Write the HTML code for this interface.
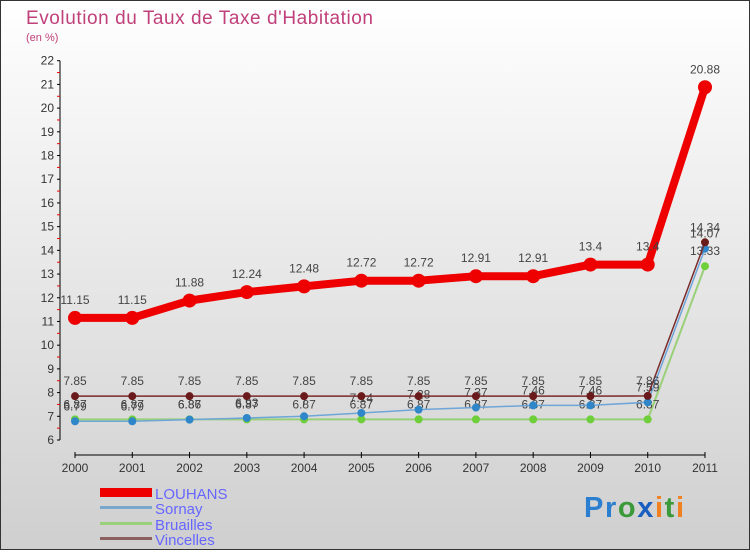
<!DOCTYPE html>
<html><head><meta charset="utf-8"><style>
body{margin:0;width:750px;height:550px;overflow:hidden;font-family:"Liberation Sans",sans-serif}
</style></head><body>
<svg id="c" width="750" height="550" xmlns="http://www.w3.org/2000/svg">
<defs><linearGradient id="bg" x1="0" y1="0" x2="0" y2="1"><stop offset="0" stop-color="#ffffff"/><stop offset="1" stop-color="#cfcfcf"/></linearGradient></defs>
<rect x="0.5" y="0.5" width="749" height="549" fill="url(#bg)" stroke="#333"/>
<text x="26" y="24" font-size="19" fill="#c0407a" textLength="347">Evolution du Taux de Taxe d'Habitation</text>
<text x="26" y="41" font-size="11" fill="#c0407a">(en %)</text>
<g id="axes"></g><g id="series"></g>
<g>
<rect x="100" y="488" width="52" height="9" fill="#e00"/>
<text x="155" y="499" font-size="15" fill="#6666ff">LOUHANS</text>
<rect x="100" y="506" width="52" height="3" fill="#7aa8cc"/>
<text x="155" y="514" font-size="15" fill="#6666ff">Sornay</text>
<rect x="100" y="522" width="52" height="3" fill="#9ad07a"/>
<text x="155" y="530" font-size="15" fill="#6666ff">Bruailles</text>
<rect x="100" y="537" width="52" height="3" fill="#8a6060"/>
<text x="155" y="545" font-size="15" fill="#6666ff">Vincelles</text>
</g>
<text x="584" y="517" font-size="29" font-weight="bold" textLength="100"><tspan fill="#2a7fd0">Pr</tspan><tspan fill="#3a9a3a">o</tspan><tspan fill="#1a5fc0">x</tspan><tspan fill="#f08020">i</tspan><tspan fill="#3a9a3a">t</tspan><tspan fill="#f08020">i</tspan></text>
</svg>
<script>
const years=[2000,2001,2002,2003,2004,2005,2006,2007,2008,2009,2010,2011];
const louhans=[11.15,11.15,11.88,12.24,12.48,12.72,12.72,12.91,12.91,13.4,13.4,20.88];
const sornay=[6.79,6.79,6.86,6.93,7,7.14,7.28,7.37,7.46,7.46,7.59,14.07];
const bruailles=[6.87,6.87,6.87,6.87,6.87,6.87,6.87,6.87,6.87,6.87,6.87,13.33];
const vincelles=[7.85,7.85,7.85,7.85,7.85,7.85,7.85,7.85,7.85,7.85,7.86,14.34];
const yTicks=[6,7,8,9,10,11,12,13,14,15,16,17,18,19,20,21,22];
const NS="http://www.w3.org/2000/svg";
const X=i=>75+i*(630/11);
const Y=v=>440-(v-6)*(379.3/16);
function mk(t,a,p){const e=document.createElementNS(NS,t);for(const k in a)e.setAttribute(k,a[k]);p.appendChild(e);return e;}
const ax=document.getElementById('axes');
let l=mk('line',{x1:60,y1:Y(22),x2:60,y2:Y(6),stroke:'#000'},ax);


l=mk('line',{x1:75,y1:455,x2:705,y2:455,stroke:'#000'},ax);


yTicks.forEach(v=>{
 mk('line',{x1:57,y1:Y(v),x2:60,y2:Y(v),stroke:'#000'},ax);
 if(v<22)mk('line',{x1:57,y1:Y(v+0.5),x2:60,y2:Y(v+0.5),stroke:'#e00'},ax);
 const t=mk('text',{x:54,y:Y(v)+4,'font-size':12,'text-anchor':'end',fill:'#333'},ax);t.textContent=v;
 
 
});
years.forEach((y,i)=>{
 mk('line',{x1:X(i),y1:452,x2:X(i),y2:458,stroke:'#000'},ax);
 const t=mk('text',{x:X(i),y:472,'font-size':12,'text-anchor':'middle',fill:'#333'},ax);t.textContent=y;
 
 
});
const sg=document.getElementById('series');
function series(name,data,color,w,r,dotColor,dy){
 const g=mk('g',{},sg);
 
 
 mk('polyline',{points:data.map((v,i)=>X(i)+','+Y(v)).join(' '),fill:'none',stroke:color,'stroke-width':w,'stroke-linejoin':'round'},g);
 data.forEach((v,i)=>{
  const c=mk('circle',{cx:X(i),cy:Y(v),r:r,fill:dotColor},g);
  
  
  const t=mk('text',{x:X(i),y:Y(v)+dy,'font-size':12,'text-anchor':'middle',fill:'#444'},g);t.textContent=v;
 });
}
series('bruailles',bruailles,'#9ad07a',2,4,'#6fcf3a',-11);
series('sornay',sornay,'#6ea6d8',1.5,4,'#2f86c8',-11);
series('vincelles',vincelles,'#7a2a2a',1.5,4,'#6a1a1a',-11);
series('louhans',louhans,'#ee0000',8,7,'#ee0000',-14);
</script>
</body></html>
